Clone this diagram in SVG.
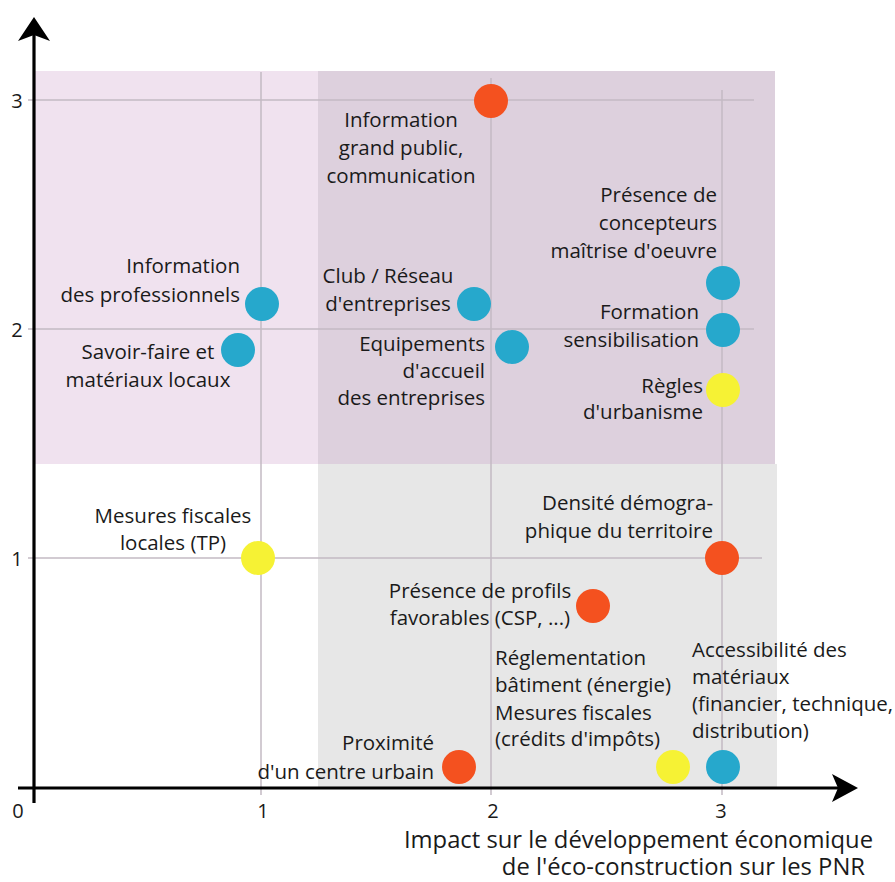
<svg xmlns="http://www.w3.org/2000/svg" width="895" height="882" viewBox="0 0 895 882">
<style>
  text { font-family: "Open Sans", "Liberation Sans", sans-serif; font-size: 20.5px; fill: #1a1a1a; }
  .r { text-anchor: end; }
  .c { text-anchor: middle; }
  .tick { font-size: 20px; text-anchor: middle; }
  .title { font-size: 23.8px; text-anchor: end; }
  .grid { stroke: #c3bac3; stroke-width: 1.5; fill: none; }
  .axis { stroke: #000; stroke-width: 3.2; fill: none; }
  .orange { fill: #f4511f; }
  .blue { fill: #26a8cc; }
  .yellow { fill: #f6f234; }
</style>
<rect width="895" height="882" fill="#ffffff"/>
<g id="background">
  <rect x="35" y="71" width="283" height="393" fill="#f0e2ef"/>
  <rect x="318" y="71" width="457" height="393" fill="#ddd0dd"/>
  <rect x="318" y="464" width="459" height="325" fill="#e7e7e7"/>
</g>
<g id="grid">
  <line class="grid" x1="28" y1="100" x2="754" y2="100"/>
  <line class="grid" x1="28" y1="329" x2="754" y2="329"/>
  <line class="grid" x1="28" y1="558" x2="762" y2="558"/>
  <line class="grid" x1="261" y1="72" x2="261" y2="795"/>
  <line class="grid" x1="491" y1="78" x2="491" y2="795"/>
  <line class="grid" x1="722" y1="90" x2="722" y2="795"/>
</g>
<g id="axes">
  <line class="axis" x1="34" y1="32" x2="34" y2="803"/>
  <path d="M34,17 L50,41 L34,35 L18,41 Z" fill="#000"/>
  <line class="axis" x1="18" y1="788" x2="845" y2="788"/>
  <path d="M858,788 L832,774 L838,788 L832,802 Z" fill="#000"/>
  <text class="tick" x="17" y="108">3</text>
  <text class="tick" x="17" y="337">2</text>
  <text class="tick" x="17" y="566">1</text>
  <text class="tick" x="18" y="818">0</text>
  <text class="tick" x="263" y="818">1</text>
  <text class="tick" x="493" y="818">2</text>
  <text class="tick" x="721" y="818">3</text>
  <text class="title" x="873" y="848">Impact sur le développement économique</text>
  <text class="title" x="865" y="875">de l'éco-construction sur les PNR</text>
</g>
<g id="n-info-grand-public">
  <circle class="orange" cx="491" cy="101" r="17"/>
  <text class="c" x="401" y="127">Information</text>
  <text class="c" x="401" y="155">grand public,</text>
  <text class="c" x="401" y="183">communication</text>
</g>
<g id="n-info-pro">
  <circle class="blue" cx="262" cy="304" r="17"/>
  <text class="r" x="240" y="273">Information</text>
  <text class="r" x="240" y="302">des professionnels</text>
</g>
<g id="n-savoir-faire">
  <circle class="blue" cx="238" cy="350" r="17"/>
  <text class="c" x="148" y="359">Savoir-faire et</text>
  <text class="c" x="148" y="387">matériaux locaux</text>
</g>
<g id="n-club">
  <circle class="blue" cx="474" cy="304" r="17"/>
  <text class="c" x="388" y="283">Club / Réseau</text>
  <text class="c" x="388" y="311">d'entreprises</text>
</g>
<g id="n-equipements">
  <circle class="blue" cx="512" cy="347" r="17"/>
  <text class="r" x="485" y="351">Equipements</text>
  <text class="r" x="485" y="378">d'accueil</text>
  <text class="r" x="485" y="405">des entreprises</text>
</g>
<g id="n-concepteurs">
  <circle class="blue" cx="723" cy="283" r="17"/>
  <text class="r" x="717" y="202">Présence de</text>
  <text class="r" x="717" y="230">concepteurs</text>
  <text class="r" x="717" y="258">maîtrise d'oeuvre</text>
</g>
<g id="n-formation">
  <circle class="blue" cx="723" cy="330" r="17"/>
  <text class="r" x="699" y="319">Formation</text>
  <text class="r" x="699" y="347">sensibilisation</text>
</g>
<g id="n-regles">
  <circle class="yellow" cx="723" cy="390" r="17"/>
  <text class="r" x="703" y="393">Règles</text>
  <text class="r" x="703" y="419">d'urbanisme</text>
</g>
<g id="n-mesures-locales">
  <circle class="yellow" cx="258" cy="558" r="17"/>
  <text class="c" x="173" y="523">Mesures fiscales</text>
  <text class="c" x="173" y="550">locales (TP)</text>
</g>
<g id="n-densite">
  <circle class="orange" cx="722" cy="558" r="17"/>
  <text class="r" x="713" y="510">Densité démogra-</text>
  <text class="r" x="713" y="538">phique du territoire</text>
</g>
<g id="n-profils">
  <circle class="orange" cx="593" cy="606" r="17"/>
  <text class="c" x="480" y="598">Présence de profils</text>
  <text class="c" x="480" y="625">favorables (CSP, ...)</text>
</g>
<g id="n-proximite">
  <circle class="orange" cx="459" cy="767" r="17"/>
  <text class="r" x="434" y="750">Proximité</text>
  <text class="r" x="434" y="779">d'un centre urbain</text>
</g>
<g id="n-reglementation">
  <circle class="yellow" cx="673" cy="767" r="17"/>
  <text x="495" y="665">Réglementation</text>
  <text x="495" y="692">bâtiment (énergie)</text>
  <text x="495" y="720">Mesures fiscales</text>
  <text x="495" y="746">(crédits d'impôts)</text>
</g>
<g id="n-accessibilite">
  <circle class="blue" cx="723" cy="767" r="17"/>
  <text x="692" y="657">Accessibilité des</text>
  <text x="692" y="684">matériaux</text>
  <text x="692" y="711">(financier, technique,</text>
  <text x="692" y="738">distribution)</text>
</g>
<g id="connectors"></g>
</svg>
